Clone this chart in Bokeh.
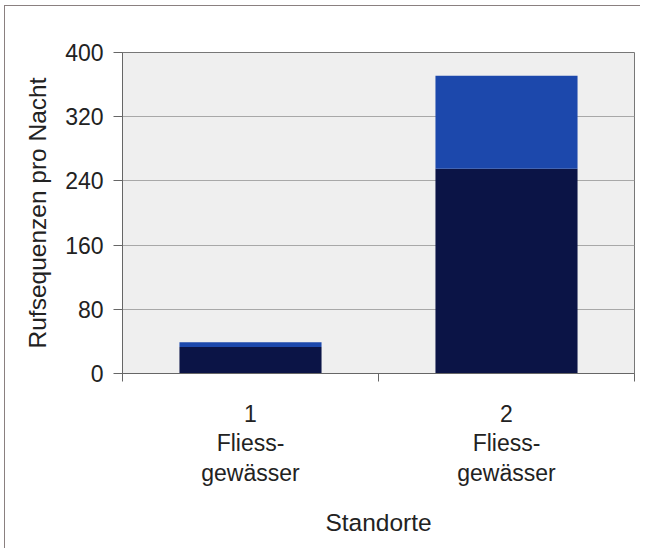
from bokeh.plotting import figure
from bokeh.models import Range1d, FixedTicker, ColumnDataSource
from bokeh.embed import file_html
from bokeh.resources import INLINE

# Data
categories = ["1\nFliess-\ngewässer", "2\nFliess-\ngewässer"]
x_pos = [0.5, 1.5]
lower = [33, 255]
upper = [6, 116]
y_ticks = [0, 80, 160, 240, 320, 400]

src = ColumnDataSource(dict(x=x_pos, lower=lower, upper=upper))

p = figure(frame_width=512, frame_height=321,
           min_border_left=117, min_border_right=6, min_border_top=46, min_border_bottom=175,
           x_range=Range1d(0, 2), y_range=Range1d(0, 400),
           output_backend="svg", toolbar_location=None,
           background_fill_color="#efefef", border_fill_color="white")

p.vbar_stack(["lower", "upper"], x="x", width=0.555, source=src,
             color=["#0b1446", "#1c48ac"], line_color=None)

FONT = "Liberation Sans"
TXT = "#222222"
FS = "23px"
FS_AX = "24.5px"

# y axis
ya = p.yaxis[0]
ya.ticker = FixedTicker(ticks=y_ticks)
ya.major_tick_out = 9
ya.major_tick_in = 0
ya.minor_tick_line_color = None
ya.axis_line_color = "#666666"
ya.major_tick_line_color = "#666666"
ya.major_label_text_font = FONT
ya.major_label_text_font_size = FS
ya.major_label_text_color = TXT
ya.major_label_standoff = 10
ya.axis_label = "Rufsequenzen pro Nacht"
ya.axis_label_text_font = FONT
ya.axis_label_text_font_size = FS_AX
ya.axis_label_text_font_style = "normal"
ya.axis_label_text_color = TXT
ya.axis_label_standoff = 11

# x axis
xa = p.xaxis[0]
xa.ticker = FixedTicker(ticks=x_pos, minor_ticks=[0, 1, 2])
xa.major_label_overrides = {x: c for x, c in zip(x_pos, categories)}
xa.major_tick_line_color = None
xa.major_tick_out = 0
xa.major_tick_in = 0
xa.minor_tick_out = 8
xa.minor_tick_in = 0
xa.minor_tick_line_color = "#666666"
xa.axis_line_color = "#666666"
xa.major_label_text_font = FONT
xa.major_label_text_font_size = FS
xa.major_label_text_color = TXT
xa.major_label_text_line_height = 1.15
xa.major_label_standoff = 19
xa.axis_label = "Standorte"
xa.axis_label_text_font = FONT
xa.axis_label_text_font_size = FS_AX
xa.axis_label_text_font_style = "normal"
xa.axis_label_text_color = TXT
xa.axis_label_standoff = 20

p.xgrid.grid_line_color = None
p.ygrid.ticker = FixedTicker(ticks=y_ticks)
p.ygrid.grid_line_color = "#a8a8a8"
p.outline_line_color = "#777777"
p.outline_line_alpha = 1.0

p.styles = {"margin-top": "5px", "margin-left": "4px",
            "border-top": "1px solid #8a8080", "border-left": "1px solid #8a8080"}

open("out.html", "w").write(file_html(p, INLINE))
